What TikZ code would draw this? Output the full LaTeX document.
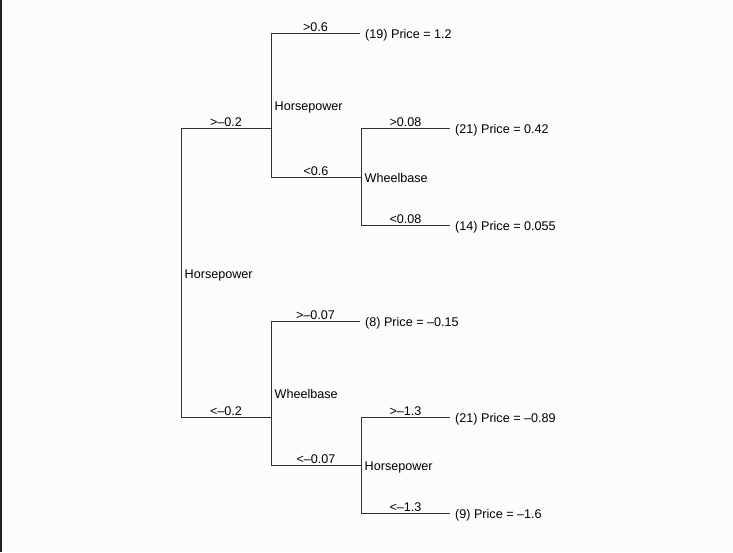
\documentclass[tikz,border=0pt]{standalone}
\usepackage{fontspec}
\setmainfont{Liberation Sans}
\definecolor{bgc}{HTML}{FCFCFC}
\definecolor{edgec}{HTML}{222222}
\definecolor{linec}{HTML}{303030}
\begin{document}
\begin{tikzpicture}[x=1pt,y=-1pt,
  every node/.style={font=\fontsize{12.6}{15}\selectfont, text=black},
  branch/.style={draw=linec, line width=1pt},
  cut/.style={midway, anchor=base, yshift=2pt, inner sep=0pt},
  leaf/.style={anchor=base west, inner xsep=5pt, inner ysep=0pt},
  split/.style={anchor=base west, inner xsep=3.5pt, inner ysep=0pt}]
\useasboundingbox (0,0) rectangle (733,552);
\fill[bgc] (0,0) rectangle (733,552);
\fill[edgec] (0,0) rectangle (2,552);
% junction coordinates
\coordinate (A1) at (181,128); \coordinate (A2) at (181,417);
\coordinate (B1) at (271,33);  \coordinate (Bm) at (271,128); \coordinate (B2) at (271,177);
\coordinate (C1) at (361,128); \coordinate (Cm) at (361,177); \coordinate (C2) at (361,225);
\coordinate (D1) at (271,321); \coordinate (Dm) at (271,417); \coordinate (D2) at (271,465);
\coordinate (E1) at (361,417); \coordinate (Em) at (361,465); \coordinate (E2) at (361,513);
% split labels
\node[split] (sA) at (181,278) {Horsepower};
\node[split] (sB) at (271,110) {Horsepower};
\node[split] (sC) at (361,182) {Wheelbase};
\node[split] (sD) at (271,398) {Wheelbase};
\node[split] (sE) at (361,470) {Horsepower};
% leaves
\node[leaf] (l19) at (360,38.5) {(19) Price = 1.2};
\node[leaf] (l21a) at (450,133.5) {(21) Price = 0.42};
\node[leaf] (l14) at (450,230.5) {(14) Price = 0.055};
\node[leaf] (l8) at (360,326.5) {(8) Price = –0.15};
\node[leaf] (l21b) at (450,422.5) {(21) Price = –0.89};
\node[leaf] (l9) at (450,518.5) {(9) Price = –1.6};
% verticals
\draw[branch] (A1) -- (A2);
\draw[branch] (B1) -- (B2);
\draw[branch] (C1) -- (C2);
\draw[branch] (D1) -- (D2);
\draw[branch] (E1) -- (E2);
% branches
\draw[branch] (A1) -- node[cut]{>–0.2} (Bm);
\draw[branch] (A2) -- node[cut]{<–0.2} (Dm);
\draw[branch] (B1) -- node[cut]{>0.6} (B1 -| l19.west);
\draw[branch] (B2) -- node[cut]{<0.6} (Cm);
\draw[branch] (C1) -- node[cut]{>0.08} (C1 -| l21a.west);
\draw[branch] (C2) -- node[cut]{<0.08} (C2 -| l14.west);
\draw[branch] (D1) -- node[cut]{>–0.07} (D1 -| l8.west);
\draw[branch] (D2) -- node[cut]{<–0.07} (Em);
\draw[branch] (E1) -- node[cut]{>–1.3} (E1 -| l21b.west);
\draw[branch] (E2) -- node[cut]{<–1.3} (E2 -| l9.west);
\end{tikzpicture}
\end{document}
